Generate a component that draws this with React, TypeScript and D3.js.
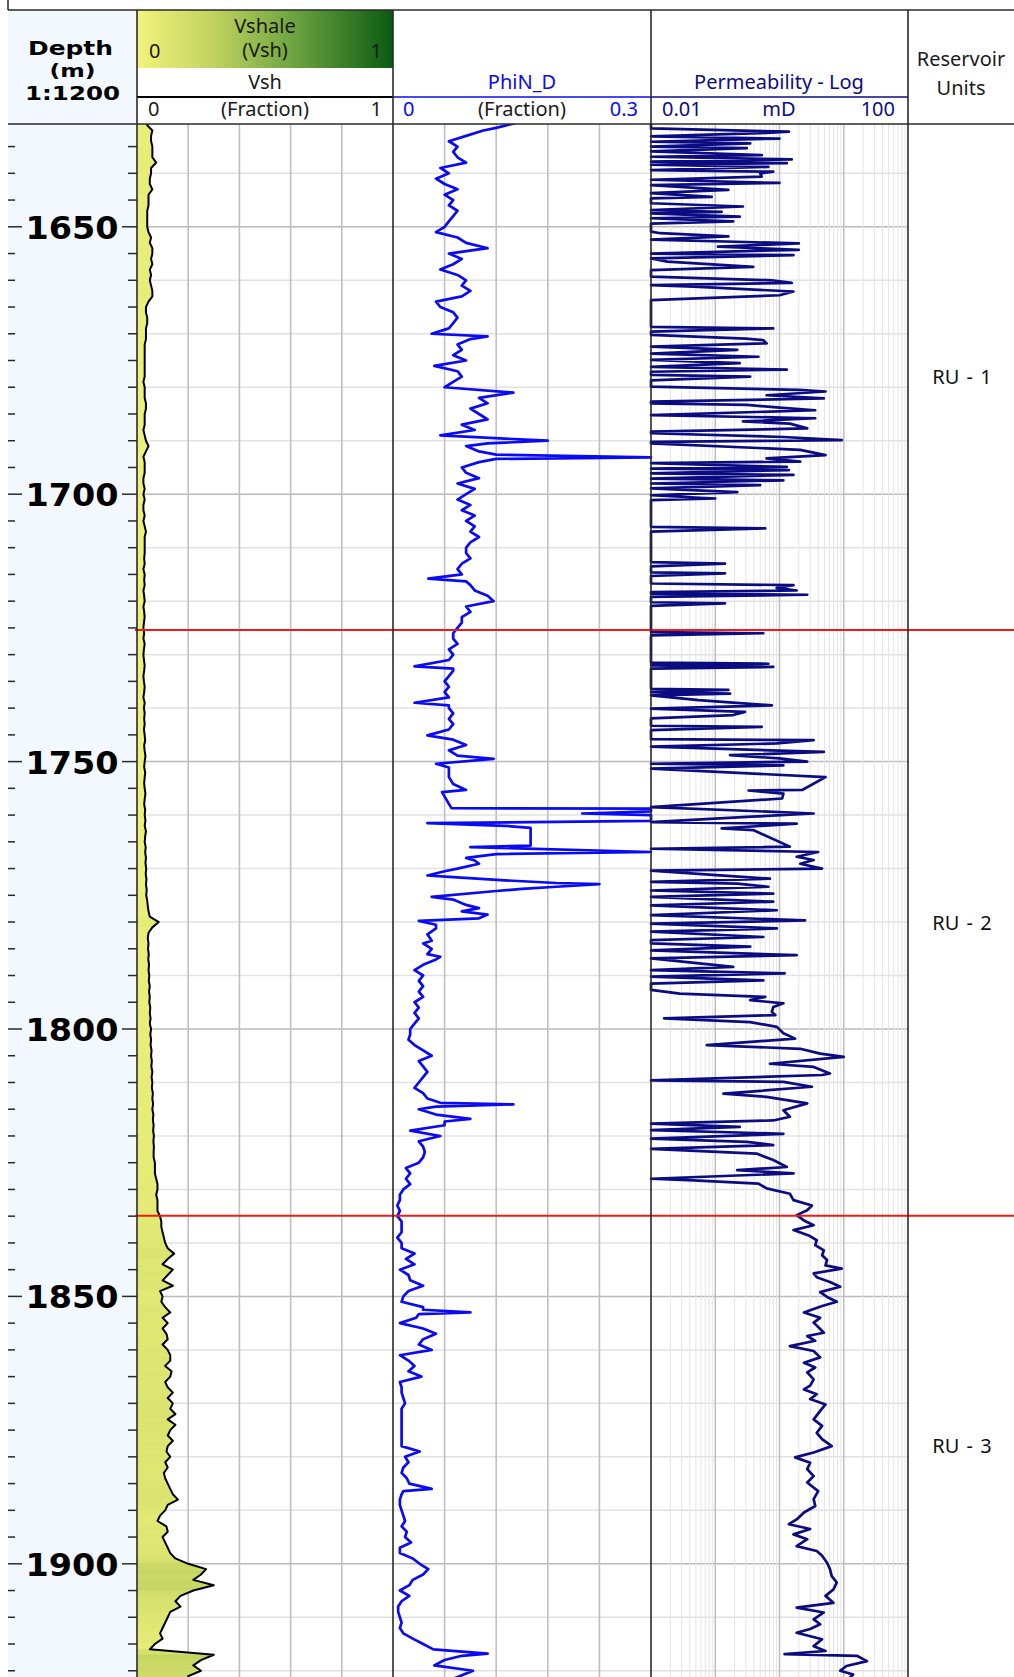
import React from "react";
import * as d3 from "d3";

// Vshale fraction, one reading per metre starting at VSH_TOP
const VSH_TOP = 1630;
const VSH: number[] = [
  0.04,
  0.04, 0.06, 0.055, 0.055, 0.06, 0.06, 0.06, 0.075, 0.055, 0.055,
  0.05, 0.05, 0.06, 0.045, 0.045, 0.045, 0.04, 0.04, 0.04, 0.04,
  0.045, 0.055, 0.05, 0.06, 0.06, 0.055, 0.06, 0.05, 0.055, 0.05,
  0.055, 0.06, 0.06, 0.045, 0.035, 0.035, 0.04, 0.04, 0.035, 0.035,
  0.035, 0.03, 0.03, 0.03, 0.03, 0.03, 0.03, 0.03, 0.025, 0.03,
  0.03, 0.03, 0.035, 0.035, 0.03, 0.03, 0.03, 0.025, 0.03, 0.035,
  0.045, 0.035, 0.025, 0.03, 0.03, 0.03, 0.025, 0.025, 0.03, 0.025,
  0.03, 0.025, 0.025, 0.03, 0.025, 0.03, 0.035, 0.03, 0.03, 0.03,
  0.03, 0.028, 0.03, 0.025, 0.03, 0.028, 0.03, 0.025, 0.028, 0.03,
  0.025, 0.028, 0.03, 0.027, 0.025, 0.028, 0.025, 0.03, 0.027, 0.025,
  0.027, 0.03, 0.028, 0.025, 0.027, 0.03, 0.028, 0.025, 0.03, 0.027,
  0.03, 0.028, 0.03, 0.027, 0.03, 0.032, 0.028, 0.03, 0.033, 0.03,
  0.028, 0.032, 0.03, 0.028, 0.03, 0.033, 0.03, 0.028, 0.032, 0.03,
  0.033, 0.03, 0.035, 0.032, 0.03, 0.034, 0.032, 0.035, 0.033, 0.036,
  0.034, 0.037, 0.035, 0.038, 0.036, 0.04, 0.042, 0.045, 0.05, 0.085,
  0.06, 0.045, 0.042, 0.045, 0.043, 0.046, 0.044, 0.047, 0.045, 0.048,
  0.046, 0.05, 0.047, 0.05, 0.048, 0.052, 0.05, 0.053, 0.05, 0.055,
  0.052, 0.055, 0.053, 0.057, 0.055, 0.058, 0.056, 0.06, 0.057, 0.06,
  0.058, 0.062, 0.06, 0.063, 0.06, 0.064, 0.062, 0.065, 0.063, 0.066,
  0.064, 0.066, 0.065, 0.065, 0.07, 0.07, 0.07, 0.075, 0.08, 0.08,
  0.075, 0.08, 0.08, 0.08, 0.09, 0.095, 0.095, 0.1, 0.105, 0.11,
  0.12, 0.145, 0.12, 0.1, 0.14, 0.12, 0.1, 0.14, 0.09, 0.1,
  0.095, 0.11, 0.13, 0.1, 0.12, 0.1, 0.115, 0.12, 0.1, 0.12,
  0.13, 0.13, 0.11, 0.135, 0.13, 0.11, 0.12, 0.14, 0.12, 0.14,
  0.13, 0.15, 0.12, 0.15, 0.13, 0.12, 0.14, 0.12, 0.115, 0.13,
  0.11, 0.12, 0.105, 0.11, 0.12, 0.13, 0.14, 0.16, 0.12, 0.11,
  0.09, 0.08, 0.115, 0.12, 0.1, 0.11, 0.12, 0.13, 0.15, 0.2,
  0.27, 0.25, 0.22, 0.3, 0.22, 0.17, 0.15, 0.17, 0.13, 0.12,
  0.11, 0.1, 0.09, 0.1, 0.07, 0.05, 0.3, 0.25, 0.22, 0.25, 0.2, 0.2,
];

// Neutron-density porosity: [depth m, fraction]
const PHIN_D: [number, number][] = [
  [1630.5, 0.145], [1631.5, 0.12], [1632, 0.105], [1633, 0.085], [1634, 0.065], [1635, 0.075],
  [1636, 0.07], [1637, 0.075], [1638, 0.085], [1639, 0.055], [1640, 0.065], [1641, 0.05],
  [1642, 0.06], [1643, 0.075], [1644, 0.06], [1645, 0.07], [1646, 0.065], [1647, 0.075],
  [1648, 0.07], [1649, 0.065], [1650, 0.06], [1651, 0.05], [1652, 0.075], [1653, 0.085],
  [1654, 0.11], [1655, 0.065], [1656, 0.08], [1657, 0.07], [1658, 0.055], [1659, 0.075],
  [1660, 0.085], [1661, 0.08], [1662, 0.09], [1663, 0.08], [1664, 0.05], [1665, 0.055],
  [1666, 0.07], [1667, 0.075], [1668, 0.07], [1669, 0.065], [1670, 0.045], [1670.5, 0.11],
  [1671, 0.09], [1672, 0.075], [1673, 0.08], [1674, 0.07], [1675, 0.085], [1676, 0.048],
  [1677, 0.075], [1678, 0.08], [1679, 0.07], [1680, 0.06], [1681, 0.14], [1682, 0.1],
  [1683, 0.11], [1684, 0.09], [1685, 0.1], [1686, 0.11], [1687, 0.08], [1688, 0.095],
  [1689, 0.055], [1690, 0.18], [1690.5, 0.11], [1691, 0.085], [1692, 0.1], [1692.6, 0.12],
  [1693.1, 0.3], [1693.4, 0.12], [1694, 0.1], [1695, 0.08], [1696, 0.085], [1697, 0.1],
  [1698, 0.075], [1699, 0.095], [1700, 0.085], [1701, 0.075], [1702, 0.09], [1703, 0.08],
  [1704, 0.095], [1705, 0.085], [1706, 0.095], [1707, 0.09], [1708, 0.1], [1709, 0.09],
  [1710, 0.085], [1711, 0.085], [1712, 0.09], [1713, 0.08], [1714, 0.075], [1715, 0.08],
  [1715.8, 0.041], [1716.3, 0.085], [1717, 0.09], [1718, 0.095], [1719, 0.11], [1720, 0.117],
  [1721, 0.085], [1722, 0.09], [1723, 0.08], [1724, 0.08], [1725, 0.075], [1726, 0.07],
  [1727, 0.07], [1728, 0.075], [1729, 0.065], [1730, 0.07], [1731, 0.065], [1732.2, 0.025],
  [1732.6, 0.07], [1733, 0.07], [1734, 0.065], [1735, 0.06], [1736, 0.065], [1737, 0.06],
  [1738, 0.065], [1739, 0.025], [1739.5, 0.065], [1740, 0.065], [1741, 0.07], [1742, 0.065],
  [1743, 0.07], [1744, 0.065], [1745.1, 0.04], [1745.9, 0.07], [1746.9, 0.085], [1747.9, 0.065],
  [1748.9, 0.075], [1749.5, 0.117], [1750.4, 0.05], [1751.1, 0.065], [1751.9, 0.065], [1752.9, 0.065],
  [1754.2, 0.07], [1755.3, 0.085], [1755.7, 0.057], [1757.9, 0.065], [1758.7, 0.068], [1758.8, 0.3],
  [1759.3, 0.3], [1759.7, 0.22], [1760.0, 0.3], [1761.1, 0.3], [1761.5, 0.04], [1762.0, 0.13],
  [1762.4, 0.16], [1765.7, 0.16], [1766.0, 0.09], [1766.9, 0.3], [1767.3, 0.12], [1768.0, 0.085],
  [1768.5, 0.095], [1769.1, 0.1], [1770.0, 0.075], [1770.5, 0.06], [1771.3, 0.04], [1771.6, 0.07],
  [1772.2, 0.13], [1772.7, 0.19], [1772.9, 0.24], [1773.4, 0.19], [1773.8, 0.15], [1774.2, 0.12],
  [1775.3, 0.045], [1775.8, 0.07], [1776.8, 0.085], [1777.4, 0.1], [1778.0, 0.08], [1778.6, 0.11],
  [1779.3, 0.1], [1779.8, 0.03], [1780.5, 0.05], [1781.2, 0.05], [1782.3, 0.04], [1783.5, 0.045],
  [1784, 0.035], [1785, 0.045], [1786, 0.04], [1786.5, 0.055], [1787, 0.05], [1788, 0.035],
  [1789, 0.025], [1790, 0.035], [1791, 0.03], [1792, 0.035], [1793, 0.03], [1794, 0.035],
  [1795, 0.025], [1796, 0.03], [1797, 0.025], [1798, 0.03], [1799, 0.025], [1800, 0.02],
  [1801, 0.02], [1802, 0.018], [1803, 0.025], [1804, 0.035], [1805, 0.045], [1806, 0.03],
  [1807, 0.035], [1808, 0.04], [1809, 0.035], [1810, 0.03], [1811, 0.025], [1812, 0.035],
  [1813, 0.04], [1813.8, 0.055], [1814.1, 0.14], [1814.5, 0.05], [1815, 0.03], [1816, 0.05],
  [1816.8, 0.09], [1817.3, 0.06], [1818, 0.06], [1819, 0.02], [1820, 0.055], [1821, 0.03],
  [1822, 0.035], [1823, 0.037], [1824, 0.035], [1825, 0.03], [1826, 0.015], [1827, 0.02],
  [1828, 0.015], [1829, 0.02], [1830, 0.012], [1831, 0.008], [1832, 0.008], [1833, 0.005],
  [1834, 0.008], [1835, 0.005], [1836, 0.01], [1837, 0.01], [1838, 0.01], [1839, 0.005],
  [1840, 0.01], [1841, 0.01], [1842, 0.025], [1843, 0.015], [1844, 0.025], [1845, 0.008],
  [1846, 0.018], [1847, 0.02], [1848, 0.035], [1849, 0.018], [1850, 0.012], [1851, 0.01],
  [1852, 0.035], [1852.5, 0.035], [1853, 0.09], [1853.3, 0.03], [1854, 0.027], [1855, 0.008],
  [1856, 0.035], [1857, 0.05], [1858, 0.035], [1859, 0.03], [1860, 0.045], [1861, 0.008],
  [1862, 0.018], [1863, 0.025], [1864, 0.018], [1865, 0.033], [1866, 0.008], [1867, 0.01],
  [1868, 0.01], [1869, 0.012], [1870, 0.014], [1871, 0.01], [1872, 0.01], [1873, 0.01],
  [1874, 0.01], [1875, 0.01], [1876, 0.01], [1877, 0.01], [1878, 0.01], [1879, 0.031],
  [1880, 0.014], [1881, 0.018], [1882, 0.012], [1883, 0.01], [1884, 0.016], [1885, 0.019],
  [1886, 0.045], [1886.4, 0.012], [1887, 0.01], [1888, 0.008], [1889, 0.008], [1890, 0.01],
  [1891, 0.012], [1892, 0.014], [1893, 0.01], [1894, 0.016], [1895, 0.014], [1896, 0.021],
  [1897, 0.008], [1898, 0.008], [1899, 0.023], [1900, 0.031], [1901, 0.041], [1902, 0.035],
  [1903, 0.023], [1904, 0.019], [1905, 0.008], [1906, 0.019], [1907, 0.01], [1908, 0.006],
  [1909, 0.006], [1910, 0.008], [1911, 0.01], [1912, 0.008], [1913, 0.012], [1914, 0.023],
  [1915, 0.035], [1916, 0.047], [1916.8, 0.11], [1917.2, 0.08], [1918, 0.06], [1919, 0.048],
  [1920, 0.093], [1921.5, 0.07],
];

// Permeability: [depth m, mD]
const PERM: [number, number][] = [
  [1630.5, 0.01], [1631.6, 0.01], [1632.2, 1.4], [1632.5, 0.5], [1633.1, 0.01], [1633.5, 1.0],
  [1634.1, 0.01], [1634.4, 0.35], [1635.0, 0.01], [1635.3, 0.31], [1635.9, 0.01], [1636.6, 0.53],
  [1636.9, 0.01], [1637.4, 1.55], [1637.8, 0.01], [1638.1, 1.3], [1638.4, 0.01], [1638.8, 0.67],
  [1639.4, 0.01], [1639.7, 0.8], [1640.0, 0.5], [1640.6, 0.53], [1641.2, 0.01], [1641.8, 1.0],
  [1642.2, 0.01], [1643.1, 0.16], [1643.7, 0.01], [1644.4, 0.088], [1644.7, 0.01], [1645.6, 0.01],
  [1646.2, 0.27], [1646.9, 0.01], [1647.2, 0.126], [1647.5, 0.01], [1648.1, 0.24], [1648.4, 0.01],
  [1649.0, 0.19], [1649.4, 0.01], [1650.9, 0.01], [1651.2, 0.014], [1651.8, 0.16], [1652.4, 0.01],
  [1653.1, 2.0], [1653.7, 0.11], [1654.3, 2.0], [1655.0, 0.01], [1655.3, 1.65], [1655.9, 0.01],
  [1656.5, 0.018], [1657.5, 0.39], [1658.1, 0.01], [1659.3, 0.01], [1660.0, 0.76], [1660.5, 1.55],
  [1660.9, 0.01], [1661.2, 0.046], [1662.1, 1.65], [1662.8, 1.0], [1663.7, 0.01], [1668.7, 0.01],
  [1669.0, 0.8], [1669.6, 0.01], [1670.2, 0.01], [1670.9, 0.3], [1671.2, 0.56], [1671.8, 0.63],
  [1672.4, 0.01], [1673.0, 0.22], [1673.7, 0.01], [1674.3, 0.47], [1674.9, 0.01], [1675.5, 0.24],
  [1676.2, 0.01], [1676.7, 1.3], [1677.1, 0.01], [1677.7, 0.01], [1678.0, 0.35], [1678.7, 0.01],
  [1679.9, 0.01], [1680.5, 2.0], [1680.8, 5.2], [1681.5, 0.63], [1682.1, 4.9], [1682.7, 0.01],
  [1683.0, 0.01], [1683.3, 0.31], [1683.8, 1.0], [1684.3, 3.6], [1685.2, 0.01], [1685.8, 3.6],
  [1686.4, 0.27], [1686.8, 1.45], [1687.7, 2.7], [1688.3, 0.01], [1688.6, 0.01], [1689.3, 1.15],
  [1689.9, 9.3], [1690.2, 0.01], [1690.5, 0.01], [1691.7, 2.1], [1692.7, 5.2], [1693.3, 0.63],
  [1693.9, 2.1], [1694.2, 0.01], [1694.9, 1.3], [1695.2, 0.01], [1695.5, 1.4], [1696.1, 0.01],
  [1696.4, 1.65], [1697.1, 0.01], [1697.4, 1.15], [1698.0, 0.01], [1698.3, 0.5], [1698.9, 0.01],
  [1699.6, 0.22], [1700.2, 0.01], [1700.8, 0.1], [1701.1, 0.01], [1706.1, 0.01], [1706.4, 0.6],
  [1707.0, 0.01], [1712.7, 0.01], [1713.0, 0.142], [1713.5, 0.01], [1714.6, 0.01], [1714.8, 0.142],
  [1715.3, 0.01], [1716.7, 0.01], [1717.0, 1.65], [1717.5, 0.9], [1718.0, 1.85], [1718.3, 0.01],
  [1718.6, 0.01], [1718.8, 2.7], [1719.2, 0.01], [1720.2, 0.01], [1720.4, 0.142], [1720.9, 0.01],
  [1725.8, 0.01], [1726.0, 0.56], [1726.4, 0.01], [1731.5, 0.01], [1731.7, 0.67], [1732.0, 0.01],
  [1732.3, 0.8], [1732.6, 0.01], [1736.4, 0.01], [1736.6, 0.16], [1737.0, 0.01], [1737.3, 0.17],
  [1737.6, 0.01], [1738.5, 0.055], [1739.5, 0.76], [1740.1, 0.01], [1740.7, 0.29], [1741.3, 0.19],
  [1741.9, 0.01], [1743.3, 0.01], [1743.5, 0.53], [1744.1, 0.01], [1745.8, 0.01], [1746.0, 3.4],
  [1746.6, 0.91], [1747.2, 0.01], [1748.2, 4.9], [1748.8, 0.17], [1749.4, 1.0], [1750.0, 2.7],
  [1750.4, 0.01], [1750.7, 1.15], [1751.3, 0.01], [1752.9, 5.2], [1755.3, 2.25], [1755.4, 0.33],
  [1756.0, 1.15], [1756.9, 1.1], [1758.5, 0.01], [1759.7, 3.4], [1760.3, 0.37], [1761.3, 0.01],
  [1761.6, 1.85], [1762.5, 0.126], [1762.8, 0.39], [1765.9, 1.45], [1766.3, 0.01], [1766.9, 4.0],
  [1767.8, 1.85], [1768.4, 3.4], [1769.1, 2.1], [1770.0, 4.6], [1770.4, 0.01], [1771.9, 0.71],
  [1772.5, 0.01], [1772.8, 0.22], [1773.4, 0.67], [1774.1, 0.01], [1774.7, 0.8], [1775.3, 0.01],
  [1776.2, 0.8], [1776.9, 0.01], [1777.8, 0.91], [1778.7, 0.01], [1779.7, 2.5], [1780.3, 0.01],
  [1781.2, 0.91], [1781.8, 0.01], [1782.8, 0.56], [1783.4, 0.01], [1784.0, 0.01], [1784.6, 0.35],
  [1785.3, 0.01], [1786.2, 1.85], [1786.8, 0.01], [1788.4, 0.19], [1789.0, 0.01], [1789.6, 1.2],
  [1790.2, 0.01], [1790.9, 0.56], [1791.5, 0.01], [1792.7, 0.01], [1793.4, 0.028], [1794.0, 0.6],
  [1794.6, 0.35], [1795.2, 1.15], [1795.9, 0.8], [1796.8, 0.76], [1797.4, 0.86], [1798.0, 0.016],
  [1798.7, 0.35], [1799.6, 0.91], [1800.8, 1.15], [1801.8, 1.75], [1803.0, 0.074], [1803.7, 2.1],
  [1804.6, 4.3], [1805.2, 10], [1806.5, 0.71], [1807.1, 3.4], [1808.3, 6.1], [1808.6, 4.6],
  [1809.6, 0.01], [1809.9, 1.15], [1810.8, 3.2], [1812.1, 0.134], [1812.7, 0.63], [1813.9, 2.7],
  [1815.2, 1.15], [1816.4, 1.45], [1817.1, 0.8], [1817.7, 0.01], [1818.3, 0.24], [1818.9, 0.01],
  [1819.6, 1.15], [1820.5, 0.01], [1821.1, 0.31], [1821.7, 0.8], [1822.4, 0.01], [1823.3, 0.44],
  [1824.5, 0.8], [1825.8, 1.3], [1826.4, 0.22], [1827.0, 1.65], [1828.0, 0.01], [1828.3, 0.046],
  [1828.9, 0.47], [1829.8, 0.63], [1830.8, 1.45], [1832.0, 1.65], [1833.0, 3.2], [1833.9, 2.7],
  [1834.8, 1.85], [1835.8, 2.4], [1836.7, 3.4], [1837.6, 1.65], [1838.6, 2.85], [1839.5, 3.8],
  [1840.4, 3.6], [1841.4, 4.9], [1842.3, 4.6], [1843.2, 5.5], [1844.2, 5.2], [1844.8, 9.3],
  [1845.7, 3.4], [1846.4, 3.8], [1847.3, 6.1], [1848.2, 8.8], [1849.2, 4.3], [1850.1, 5.5],
  [1851.0, 7.8], [1851.8, 4.6], [1853.0, 2.4], [1854.0, 4.3], [1854.9, 3.4], [1856.1, 4.3],
  [1856.8, 4.9], [1857.4, 2.7], [1858.3, 3.6], [1859.3, 1.45], [1860.2, 3.4], [1861.4, 4.3],
  [1862.4, 2.4], [1863.3, 3.6], [1864.2, 2.7], [1865.5, 3.4], [1866.7, 3.0], [1867.4, 2.4],
  [1868.3, 3.8], [1869.2, 3.0], [1870.2, 5.2], [1871.4, 4.3], [1873.0, 3.4], [1874.2, 4.6],
  [1875.5, 3.8], [1876.7, 4.6], [1878.0, 6.5], [1879.2, 3.4], [1880.1, 1.75], [1881.1, 3.0],
  [1882.3, 2.7], [1883.6, 3.4], [1884.8, 2.7], [1886.4, 4.0], [1887.9, 3.4], [1889.2, 3.6],
  [1890.4, 2.4], [1891.7, 1.85], [1892.6, 1.4], [1893.5, 3.0], [1894.5, 1.65], [1895.4, 2.7],
  [1896.7, 1.85], [1897.6, 3.8], [1898.5, 4.6], [1899.8, 5.5], [1901.0, 6.1], [1902.3, 6.5],
  [1903.5, 7.8], [1904.8, 6.9], [1906.0, 5.2], [1907.3, 6.9], [1908.2, 1.85], [1909.1, 4.9],
  [1910.4, 3.4], [1911.3, 4.3], [1912.2, 3.0], [1912.9, 1.85], [1914.1, 4.6], [1915.4, 3.4],
  [1916.3, 5.2], [1916.9, 1.2], [1917.2, 16], [1918.2, 23], [1919.1, 11], [1920.0, 8.8],
  [1920.7, 14], [1921.5, 12],
];

// Reservoir unit tops and names
const UNIT_TOPS = [1630.8, 1725.4, 1834.9];
const UNIT_BASE = 1921.2;
const UNIT_NAMES = ["RU - 1", "RU - 2", "RU - 3"];

const DEPTH_LABELS = [1650, 1700, 1750, 1800, 1850, 1900];
const PERM_DECADES = [0.01, 0.1, 1, 10, 100];

// Layout
const W = 1014;
const H = 1677;
const HEAD_TOP = 10;
const PLOT_TOP = 124;
const X_DEPTH = 8;
const X_VSH = 137;
const X_PHI = 393;
const X_PERM = 651;
const X_UNITS = 908;

const SANS = "'Noto Sans', 'Open Sans', sans-serif";
const BOLD = "'DejaVu Sans', Verdana, sans-serif";
const BLUE = "#0a0af5";
const NAVY = "#0c0c82";
const BORDER = "#2a2a2a";

export default function App() {
  const y = d3.scaleLinear().domain([1650, 1900]).range([226.8, 1563.8]);
  const dTop = y.invert(PLOT_TOP);
  const dBot = y.invert(H);
  const xV = d3.scaleLinear().domain([0, 1]).range([X_VSH, X_PHI]).clamp(true);
  const xP = d3.scaleLinear().domain([0, 0.3]).range([X_PHI, X_PERM]).clamp(true);
  const xK = d3.scaleLog().domain([0.01, 100]).range([X_PERM, X_UNITS]).clamp(true);
  const shade = d3
    .scaleLinear<string>()
    .domain([0, 0.3, 0.6, 1])
    .range(["#f1f37c", "#c0d25f", "#70a641", "#0b5a12"])
    .interpolate(d3.interpolateRgb)
    .clamp(true);

  const vshPts: [number, number][] = VSH.map((v, i) => [VSH_TOP + i, v]);
  const vshLine = d3
    .line<[number, number]>()
    .x((d) => xV(d[1]))
    .y((d) => y(d[0]));
  const phiLine = d3
    .line<[number, number]>()
    .x((d) => xP(d[1]))
    .y((d) => y(d[0]));
  const permLine = d3
    .line<[number, number]>()
    .x((d) => xK(d[1]))
    .y((d) => y(d[0]));

  const bands = d3.pairs(vshPts).map(([a, b], i) => {
    const y0 = y(a[0]);
    const y1 = y(b[0]);
    const d = `M${X_VSH},${y0}L${xV(a[1])},${y0}L${xV(b[1])},${y1}L${X_VSH},${y1}Z`;
    const c = shade((a[1] + b[1]) / 2);
    return <path key={i} d={d} fill={c} stroke={c} strokeWidth={0.6} />;
  });

  const grid10 = d3.range(1640, 1921, 10).filter((d) => d % 50 !== 0);
  const grid50 = d3.range(1650, 1921, 50);
  const ticks5 = d3.range(1635, 1921, 5).filter((d) => d % 50 !== 0);

  const permMinor: number[] = [];
  PERM_DECADES.slice(0, -1).forEach((dec) => {
    for (let k = 2; k <= 9; k++) permMinor.push(dec * k);
  });

  const units = UNIT_TOPS.map((top, i) => {
    const base = i + 1 < UNIT_TOPS.length ? UNIT_TOPS[i + 1] : UNIT_BASE;
    return { name: UNIT_NAMES[i], mid: (top + base) / 2, top };
  });

  const hdr = { fontFamily: SANS, fontSize: 20 } as const;

  return (
    <div style={{ position: "absolute", left: 0, top: 0, width: W, height: H, background: "#fff" }}>
      <svg width={W} height={H} viewBox={`0 0 ${W} ${H}`} style={{ display: "block" }}>
        <defs>
          <linearGradient id="vshGrad" x1="0" x2="1" y1="0" y2="0">
            {[0, 0.15, 0.3, 0.45, 0.6, 0.8, 1].map((t) => (
              <stop key={t} offset={t} stopColor={shade(t)} />
            ))}
          </linearGradient>
          <clipPath id="plotClip">
            <rect x={X_VSH} y={PLOT_TOP} width={X_UNITS - X_VSH} height={H - PLOT_TOP} />
          </clipPath>
        </defs>

        {/* depth column background */}
        <rect x={X_DEPTH} y={HEAD_TOP} width={X_VSH - X_DEPTH} height={H - HEAD_TOP} fill="#f3f8fe" />

        {/* Vshale header colour bar */}
        <rect x={X_VSH} y={HEAD_TOP} width={X_PHI - X_VSH} height={58} fill="url(#vshGrad)" />

        {/* grid */}
        <g clipPath="url(#plotClip)">
          {grid10.map((d) => (
            <line key={d} x1={X_VSH} x2={X_UNITS} y1={y(d)} y2={y(d)} stroke="#e2e2e2" strokeWidth={1.5} />
          ))}
          {grid50.map((d) => (
            <line key={d} x1={X_VSH} x2={X_UNITS} y1={y(d)} y2={y(d)} stroke="#bababa" strokeWidth={1.5} />
          ))}
          {d3.range(0.2, 1, 0.2).map((v) => (
            <line key={v} x1={xV(v)} x2={xV(v)} y1={PLOT_TOP} y2={H} stroke="#c0c0c0" strokeWidth={1.6} />
          ))}
          {[0.06, 0.12, 0.18, 0.24].map((v) => (
            <line key={v} x1={xP(v)} x2={xP(v)} y1={PLOT_TOP} y2={H} stroke="#c0c0c0" strokeWidth={1.6} />
          ))}
          {permMinor.map((v) => (
            <line key={v} x1={xK(v)} x2={xK(v)} y1={PLOT_TOP} y2={H} stroke="#e4e4e4" strokeWidth={1} />
          ))}
          {PERM_DECADES.slice(1, -1).map((v) => (
            <line key={v} x1={xK(v)} x2={xK(v)} y1={PLOT_TOP} y2={H} stroke="#c0c0c0" strokeWidth={1.6} />
          ))}

          {/* Vsh shaded fill and curve */}
          {bands}
          <path d={vshLine(vshPts) ?? ""} fill="none" stroke="#000" strokeWidth={2} strokeLinejoin="round" />

          {/* PhiN_D curve */}
          <path d={phiLine(PHIN_D) ?? ""} fill="none" stroke={BLUE} strokeWidth={2.7} strokeLinejoin="round" />

          {/* Permeability curve */}
          <path d={permLine(PERM) ?? ""} fill="none" stroke={NAVY} strokeWidth={2.7} strokeLinejoin="round" />
        </g>

        {/* depth ticks */}
        {ticks5
          .filter((d) => d > dTop && d < dBot)
          .map((d) => (
            <g key={d} stroke={BORDER} strokeWidth={1.5}>
              <line x1={X_DEPTH} x2={15} y1={y(d)} y2={y(d)} />
              <line x1={128} x2={X_VSH} y1={y(d)} y2={y(d)} />
            </g>
          ))}
        {DEPTH_LABELS.map((d) => (
          <g key={d}>
            <line x1={X_DEPTH} x2={22} y1={y(d)} y2={y(d)} stroke={BORDER} strokeWidth={1.5} />
            <line x1={122} x2={X_VSH} y1={y(d)} y2={y(d)} stroke={BORDER} strokeWidth={1.5} />
            <text
              x={72}
              y={y(d) + 12}
              textAnchor="middle"
              fontFamily={BOLD}
              fontWeight="bold"
              fontSize={32.5}
              textLength={93}
              lengthAdjust="spacingAndGlyphs"
              fill="#000"
            >
              {d}
            </text>
          </g>
        ))}

        {/* unit boundaries */}
        {UNIT_TOPS.slice(1).map((d) => (
          <line key={d} x1={135} x2={W} y1={y(d)} y2={y(d)} stroke="#f01a1a" strokeWidth={2} />
        ))}

        {/* unit names */}
        {units.map((u) => (
          <text key={u.name} x={962} y={y(u.mid) + 7} textAnchor="middle" {...hdr} wordSpacing={2} fill="#111">
            {u.name}
          </text>
        ))}

        {/* header frame */}
        <line x1={X_DEPTH} x2={X_DEPTH} y1={0} y2={HEAD_TOP} stroke={BORDER} strokeWidth={1.5} />
        <line x1={X_DEPTH} x2={W} y1={HEAD_TOP} y2={HEAD_TOP} stroke={BORDER} strokeWidth={1.5} />
        <line x1={X_DEPTH} x2={W} y1={PLOT_TOP} y2={PLOT_TOP} stroke={BORDER} strokeWidth={1.5} />
        <line x1={X_VSH} x2={X_PHI} y1={97} y2={97} stroke="#000" strokeWidth={2} />
        <line x1={X_PHI} x2={X_PERM} y1={97} y2={97} stroke={BLUE} strokeWidth={1.6} />
        <line x1={X_PERM} x2={X_UNITS} y1={97} y2={97} stroke={NAVY} strokeWidth={1.6} />
        {[X_VSH, X_PHI, X_PERM, X_UNITS].map((x) => (
          <line key={x} x1={x} x2={x} y1={HEAD_TOP} y2={H} stroke={BORDER} strokeWidth={1.6} />
        ))}

        {/* depth header */}
        <g fontFamily={BOLD} fontWeight="bold" textAnchor="middle" fill="#000">
          <text x={70.5} y={55} fontSize={20} textLength={85} lengthAdjust="spacingAndGlyphs">Depth</text>
          <text x={72.5} y={77} fontSize={18} textLength={46} lengthAdjust="spacingAndGlyphs">(m)</text>
          <text x={72.5} y={99.5} fontSize={20} textLength={95} lengthAdjust="spacingAndGlyphs">1:1200</text>
        </g>

        {/* Vsh header */}
        <g {...hdr} fill="#1a1a1a">
          <text x={265} y={33} textAnchor="middle">Vshale</text>
          <text x={265} y={57} textAnchor="middle">(Vsh)</text>
          <text x={149} y={58}>0</text>
          <text x={382} y={58} textAnchor="end">1</text>
          <text x={265} y={88.5} textAnchor="middle">Vsh</text>
          <text x={148} y={116}>0</text>
          <text x={265} y={116} textAnchor="middle">(Fraction)</text>
          <text x={382} y={116} textAnchor="end">1</text>
        </g>

        {/* PhiN header */}
        <g {...hdr}>
          <text x={522} y={88.5} textAnchor="middle" fill={BLUE}>PhiN_D</text>
          <text x={403} y={116} fill={BLUE}>0</text>
          <text x={522} y={116} textAnchor="middle" fill="#1a1a1a">(Fraction)</text>
          <text x={638} y={116} textAnchor="end" fill={BLUE}>0.3</text>
        </g>

        {/* Permeability header */}
        <g {...hdr} fill={NAVY}>
          <text x={779} y={88.5} textAnchor="middle">Permeability - Log</text>
          <text x={662} y={116}>0.01</text>
          <text x={779} y={116} textAnchor="middle">mD</text>
          <text x={895} y={116} textAnchor="end">100</text>
        </g>

        {/* Units header */}
        <g {...hdr} fill="#1a1a1a" textAnchor="middle">
          <text x={961} y={66}>Reservoir</text>
          <text x={961} y={95}>Units</text>
        </g>
      </svg>
    </div>
  );
}
